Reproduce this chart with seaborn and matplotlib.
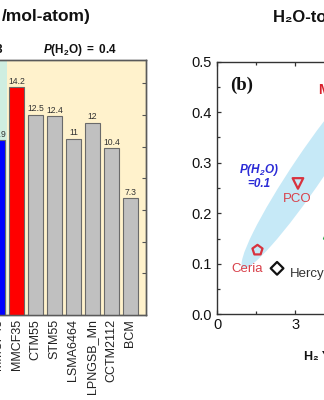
import numpy as np
import pandas as pd
import matplotlib
matplotlib.use("Agg")
import matplotlib.pyplot as plt
import seaborn as sns
from matplotlib.patches import Ellipse
from matplotlib.transforms import ScaledTranslation
from matplotlib.ticker import MultipleLocator, FormatStrFormatter

# ---------------- data ----------------
bar_categories = ["MMCF45", "MMCF35", "CTM55", "STM55", "LSMA6464",
                  "LPNGSB_Mn", "CCTM2112", "BCM"]
bar_values = [10.9, 14.2, 12.5, 12.4, 11, 12, 10.4, 7.3]
bar_colors = ["#0000ff", "#ff0000", "#c0c0c0", "#c0c0c0", "#c0c0c0",
              "#c0c0c0", "#c0c0c0", "#c0c0c0"]

pt_names = ["Ceria", "Hercynite", "PCO", ""]
pt_x = [1.55, 2.3, 3.1, 4.3]
pt_y = [0.127, 0.091, 0.259, 0.16]
pt_markers = ["p", "D", "v", "^"]
pt_colors = ["#d8323e", "#111111", "#d8323e", "#2aa84a"]
pt_label_colors = ["#d8404a", "#333333", "#d8404a", "#2aa84a"]

# ---------------- style ----------------
sns.set_style("ticks")
plt.rcParams["font.family"] = ["Liberation Sans", "DejaVu Sans"]
plt.rcParams["mathtext.fontset"] = "custom"
plt.rcParams["mathtext.rm"] = "Liberation Sans"
plt.rcParams["mathtext.bf"] = "Liberation Sans:bold"
plt.rcParams["mathtext.it"] = "Liberation Sans:italic"
plt.rcParams["mathtext.bfit"] = "Liberation Sans:bold:italic"

W, H = 324, 400
fig = plt.figure(figsize=(W / 100, H / 100), dpi=100)


def box(x0, y0, x1, y1):
    return [x0 / W, 1 - y1 / H, (x1 - x0) / W, (y1 - y0) / H]


# ---------------- bar chart (left) ----------------
ax1 = fig.add_axes(box(-40, 60, 146, 315))
df = pd.DataFrame({"cat": bar_categories, "val": bar_values})
sns.barplot(data=df, x="cat", y="val", hue="cat",
            palette=dict(zip(bar_categories, bar_colors)),
            saturation=1, width=0.8, edgecolor="#6a6a6a", linewidth=0.8,
            legend=False, ax=ax1, zorder=3)
for cont in ax1.containers:
    ax1.bar_label(cont, fmt="{:g}", fontsize=6.2, padding=1, color="#333333")
xl = (-1.98, 7.82)
ax1.axvspan(xl[0], 0.5, color="#cfeee1", zorder=0, lw=0)
ax1.axvspan(0.5, xl[1], color="#fff2cc", zorder=0, lw=0)
ax1.set_xlim(*xl)
ax1.set_ylim(0, 15.9)
ax1.set_xlabel("")
ax1.set_ylabel("")
ax1.tick_params(axis="x", length=0, pad=3, labelsize=9, rotation=90,
                labelcolor="#222222")
ax1.tick_params(axis="y", left=False, labelleft=False)
for s in ax1.spines.values():
    s.set_visible(True)
    s.set_color("#5a5a5a")
    s.set_linewidth(1)

ax1b = ax1.twinx()
ax1b.set_ylim(-0.317, 7.735)
ax1b.set_yticks(range(1, 8))
ax1b.tick_params(axis="y", direction="in", length=3, labelright=False,
                 color="#555555", width=0.8)
for s in ax1b.spines.values():
    s.set_color("#5a5a5a")
    s.set_linewidth(1)

fig.text(91 / W, 1 - 17 / H, "/mol-atom)", ha="right", va="center",
         fontsize=12.5, fontweight="bold", color="#111111")
fig.text(80 / W, 1 - 50 / H, r"$\mathbfit{P}\mathbf{(H_2O)\ =\ 0.4}$",
         ha="center", va="center", fontsize=8.5, color="#111111")
fig.text(3.5 / W, 1 - 50 / H, r"$\mathbfit{P}\mathbf{(H_2O)\ =\ 0.3}$",
         ha="right", va="center", fontsize=8.5, color="#111111")

# ---------------- scatter chart (right) ----------------
ax2 = fig.add_axes(box(217, 61.7, 452, 314.3))

ell = Ellipse((0, 0), width=2.40, height=0.32, angle=56,
              facecolor="#c6e9f7", edgecolor="none", zorder=0,
              transform=fig.dpi_scale_trans
              + ScaledTranslation(3.56, 0.289, ax2.transData))
ax2.add_patch(ell)

sizes = [58, 42, 58, 58]
for name, x, y, m, c, s in zip(pt_names, pt_x, pt_y, pt_markers,
                               pt_colors, sizes):
    sns.scatterplot(x=[x], y=[y], marker=m, s=s, facecolor="none",
                    edgecolor=c, linewidth=1.6, ax=ax2, zorder=4)

ax2.annotate(pt_names[0], (pt_x[0], pt_y[0]), xytext=(-7.4, -13.7),
             textcoords="offset points", ha="center", va="center",
             fontsize=9.5, color=pt_label_colors[0])
ax2.annotate(pt_names[1], (pt_x[1], pt_y[1]), xytext=(9.1, -4.1),
             textcoords="offset points", ha="left", va="center",
             fontsize=9.5, color=pt_label_colors[1])
ax2.annotate(pt_names[2], (pt_x[2], pt_y[2]), xytext=(-0.7, -11.3),
             textcoords="offset points", ha="center", va="center",
             fontsize=9.5, color=pt_label_colors[2])

ax2.set_xlim(0, 9)
ax2.set_ylim(0, 0.5)
ax2.set_xlabel("")
ax2.set_ylabel("")
ax2.xaxis.set_major_locator(MultipleLocator(3))
ax2.xaxis.set_minor_locator(MultipleLocator(1.5))
ax2.yaxis.set_major_locator(MultipleLocator(0.1))
ax2.yaxis.set_minor_locator(MultipleLocator(0.05))
ax2.yaxis.set_major_formatter(FormatStrFormatter("%.1f"))
ax2.tick_params(which="both", direction="in", top=True, right=True,
                color="#333333", width=0.9)
ax2.tick_params(which="major", length=3.2, labelsize=10.5,
                labelcolor="#111111")
ax2.tick_params(axis="y", which="major", pad=3.5)
ax2.tick_params(axis="x", which="major", pad=3)
ax2.tick_params(which="minor", length=2.2)
for s in ax2.spines.values():
    s.set_color("#333333")
    s.set_linewidth(1)

fig.text(230 / W, 1 - 85 / H, "(b)", ha="left", va="center",
         fontsize=13.5, fontweight="bold", family="Liberation Serif",
         color="#111111")
fig.text(318.5 / W, 1 - 90 / H, "MMCF35", ha="left", va="center",
         fontsize=10, fontweight="bold", color="#d8202c")
fig.text(258.7 / W, 1 - 176 / H, "$\\mathbfit{P}\\mathbfit{(H_2O)}$\n=0.1",
         ha="center", va="center", fontsize=8.5, fontweight="bold",
         style="italic", color="#2b2bd6", linespacing=1.0)
fig.text(273 / W, 1 - 17 / H, "H₂O-to-H₂ conversion", ha="left",
         va="center", fontsize=12, fontweight="bold", color="#111111")
fig.text(303.7 / W, 1 - 357 / H, "H₂ Yield", ha="left", va="center",
         fontsize=9, fontweight="bold", color="#111111")

fig.savefig("out.png", dpi=100)
